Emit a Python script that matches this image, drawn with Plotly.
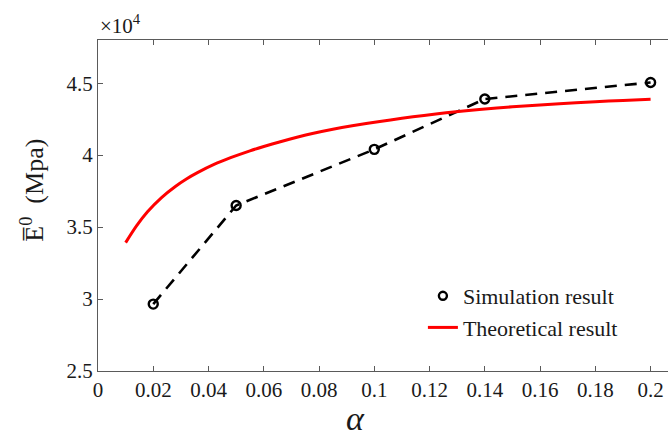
import plotly.graph_objects as go

# Data (values in units of 1e4 MPa)
alpha_sim = [0.02, 0.05, 0.10, 0.14, 0.20]
E_sim = [2.965, 3.65, 4.04, 4.39, 4.505]

alpha_theo = [0.010, 0.014, 0.018, 0.023, 0.028, 0.032, 0.036, 0.042, 0.048, 0.055, 0.060,
              0.066, 0.072, 0.078, 0.085, 0.092, 0.102, 0.110, 0.118, 0.126, 0.138,
              0.150, 0.167, 0.180, 0.190, 0.200]
E_theo = [3.392, 3.510, 3.608, 3.705, 3.782, 3.834, 3.878, 3.935, 3.982, 4.030, 4.060,
          4.093, 4.124, 4.152, 4.180, 4.204, 4.234, 4.256, 4.276, 4.294, 4.317,
          4.336, 4.357, 4.371, 4.380, 4.388]

xticks = [0, 0.02, 0.04, 0.06, 0.08, 0.1, 0.12, 0.14, 0.16, 0.18, 0.2]
xticktext = ["0", "0.02", "0.04", "0.06", "0.08", "0.1", "0.12", "0.14", "0.16", "0.18", "0.2"]
yticks = [2.5, 3, 3.5, 4, 4.5]
yticktext = ["2.5", "3", "3.5", "4", "4.5"]

FONT = "Liberation Serif, Times New Roman, serif"
AX = "#5a5a5a"
TXT = "#1a1a1a"

fig = go.Figure()
fig.add_trace(go.Scatter(x=alpha_sim, y=E_sim, mode="lines+markers",
                         line=dict(color="black", width=2.6, dash="12px,8px"),
                         marker=dict(symbol="circle-open", size=9, color="black",
                                     line=dict(width=2.4, color="black")),
                         showlegend=False))
fig.add_trace(go.Scatter(x=alpha_theo, y=E_theo, mode="lines",
                         line=dict(color="#ff0000", width=3, shape="spline", smoothing=0.8),
                         showlegend=False))
# legend entries
fig.add_trace(go.Scatter(x=[None], y=[None], mode="markers", name="Simulation result",
                         marker=dict(symbol="circle-open", size=8, color="black",
                                     line=dict(width=2.4, color="black"))))
fig.add_trace(go.Scatter(x=[None], y=[None], mode="lines", name="Theoretical result",
                         line=dict(color="#ff0000", width=3)))

fig.update_layout(
    width=668, height=441,
    margin=dict(l=98, r=0, t=40, b=70),
    plot_bgcolor="white", paper_bgcolor="white",
    font=dict(family=FONT, size=21, color=TXT),
    legend=dict(x=0.57, y=0.29, xanchor="left", yanchor="top",
                bgcolor="rgba(0,0,0,0)", font=dict(size=22, family=FONT, color=TXT),
                tracegroupgap=0, itemwidth=30),
    xaxis=dict(range=[0, 0.2063], tickvals=xticks, ticktext=xticktext,
               showline=True, linecolor=AX, linewidth=1.3, mirror="ticks",
               ticks="inside", ticklen=5, tickcolor=AX, showgrid=False, zeroline=False,
               tickfont=dict(size=21)),
    yaxis=dict(range=[2.5, 4.8], tickvals=yticks, ticktext=yticktext,
               showline=True, linecolor=AX, linewidth=1.3,
               ticks="inside", ticklen=5, tickcolor=AX, showgrid=False, zeroline=False,
               tickfont=dict(size=21)),
)
fig.add_annotation(text="×10<sup>4</sup>", xref="paper", yref="paper", x=0, y=1.0,
                   xanchor="left", yanchor="bottom", showarrow=False, yshift=0,
                   font=dict(size=21, family=FONT, color=TXT))
fig.add_annotation(text="<i>α</i>", xref="paper", yref="paper", x=0.4526, y=-0.145,
                   xanchor="center", yanchor="middle", showarrow=False,
                   font=dict(size=34, family=FONT, color=TXT))
fig.add_annotation(text="E\u0305<sup>0</sup>  (Mpa)", xref="paper", yref="paper",
                   x=-0.114, y=0.545, xanchor="center", yanchor="middle", textangle=-90,
                   showarrow=False, font=dict(size=26, family=FONT, color=TXT))

fig.write_html("out.html")
